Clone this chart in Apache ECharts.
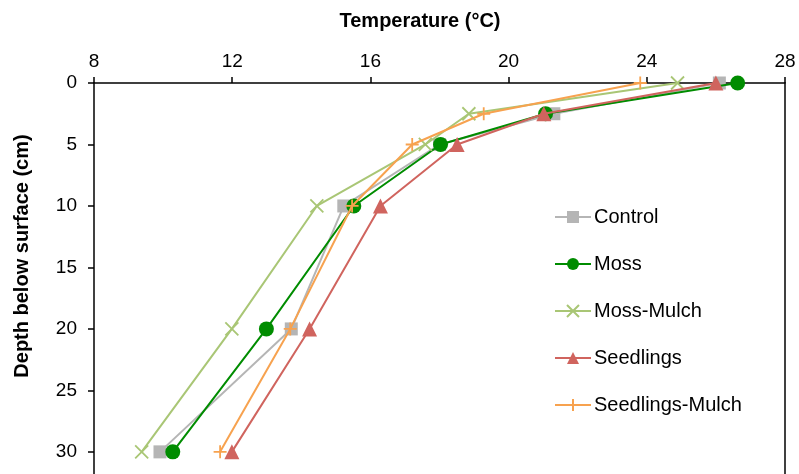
<!DOCTYPE html>
<html>
<head>
<meta charset="utf-8">
<script src="https://cdn.jsdelivr.net/npm/echarts@6/dist/echarts.min.js"></script>
<style>html,body{margin:0;padding:0;background:#fff;}#c{width:799px;height:474px;}</style>
</head>
<body>
<div id="c"></div>
<script>
const depths = [0, 2.5, 5, 10, 20, 30];
const seriesNames = ['Control', 'Moss', 'Moss-Mulch', 'Seedlings', 'Seedlings-Mulch'];
const control = [26.10, 21.31, 18.00, 15.23, 13.71, 9.91];
const moss = [26.63, 21.07, 18.03, 15.52, 12.99, 10.28];
const mossMulch = [24.89, 18.85, 17.59, 14.45, 11.99, 9.38];
const seedlings = [26.00, 21.02, 18.51, 16.29, 14.24, 11.99];
const seedlingsMulch = [23.81, 19.28, 17.21, 15.47, 13.68, 11.65];
const xTicks = [8, 12, 16, 20, 24, 28];
const yTicks = [0, 5, 10, 15, 20, 25, 30];

const FONT = '"Liberation Sans", Arial, sans-serif';
const colors = ['#b5b5b5', '#008c00', '#a9c675', '#d0645e', '#f7a24f'];
const symbols = ['rect', 'circle', 'path://M0,0 L10,10 M10,0 L0,10', 'triangle', 'path://M5,0 L5,10 M0,5 L10,5'];
const sizes = [13, 15, 13, 15, 13];
const values = [control, moss, mossMulch, seedlings, seedlingsMulch];

function pairs(arr) { return arr.map((v, i) => [v, depths[i]]); }

const series = seriesNames.map((name, i) => {
  const isStroke = (i === 2 || i === 4);
  return {
    name: name,
    type: 'line',
    data: pairs(values[i]),
    symbol: symbols[i],
    symbolSize: sizes[i],
    showAllSymbol: true,
    lineStyle: { color: colors[i], width: 2 },
    itemStyle: isStroke
      ? { color: colors[i], borderColor: colors[i], borderWidth: 1.8, opacity: 1 }
      : { color: colors[i], borderWidth: 0 },
    emphasis: { disabled: true },
    z: 2 + i
  };
});

const chart = echarts.init(document.getElementById('c'), null, { renderer: 'canvas' });
chart.setOption({
  animation: false,
  backgroundColor: '#fff',
  textStyle: { fontFamily: FONT },
  title: {
    text: 'Temperature (°C)',
    left: 415, top: 6, textAlign: 'center',
    textStyle: { fontFamily: FONT, fontSize: 20, fontWeight: 'bold', color: '#000' }
  },
  graphic: [{
    type: 'text', x: 22, y: 256, rotation: Math.PI / 2,
    style: { text: 'Depth below surface (cm)', font: 'bold 20px ' + FONT, fill: '#000', align: 'center', verticalAlign: 'middle' }
  }],
  grid: { left: 94, right: 14, top: 83, bottom: 0, show: false },
  legend: {
    orient: 'vertical', left: 549, top: 202,
    itemWidth: 36, itemHeight: 15, itemGap: 27,
    data: seriesNames,
    textStyle: { fontFamily: FONT, fontSize: 20, color: '#000', padding: [0, 0, 0, -2] },
    selectedMode: false
  },
  xAxis: {
    type: 'value', position: 'top', min: xTicks[0], max: xTicks[xTicks.length - 1], interval: 4,
    axisLine: { show: true, lineStyle: { color: '#000', width: 1.5 } },
    axisTick: { show: true, length: 6, lineStyle: { color: '#000', width: 1.5 } },
    axisLabel: { margin: 12, fontSize: 19, color: '#000', fontFamily: FONT },
    splitLine: { show: false }
  },
  yAxis: [{
    type: 'value', inverse: true, min: 0, max: 31.8, interval: 5,
    axisLine: { show: true, lineStyle: { color: '#000', width: 1.5 } },
    axisTick: { show: true, length: 6, lineStyle: { color: '#000', width: 1.5 } },
    axisLabel: { margin: 17, fontSize: 19, color: '#000', fontFamily: FONT, showMaxLabel: false,
      formatter: v => (yTicks.indexOf(v) >= 0 ? String(v) : '') },
    splitLine: { show: false }
  }, {
    type: 'value', inverse: true, min: 0, max: 31.8, interval: 5, position: 'right',
    axisLine: { show: true, lineStyle: { color: '#000', width: 1.5 } },
    axisTick: { show: false }, axisLabel: { show: false }, splitLine: { show: false }
  }],
  series: series
});
</script>
</body>
</html>
